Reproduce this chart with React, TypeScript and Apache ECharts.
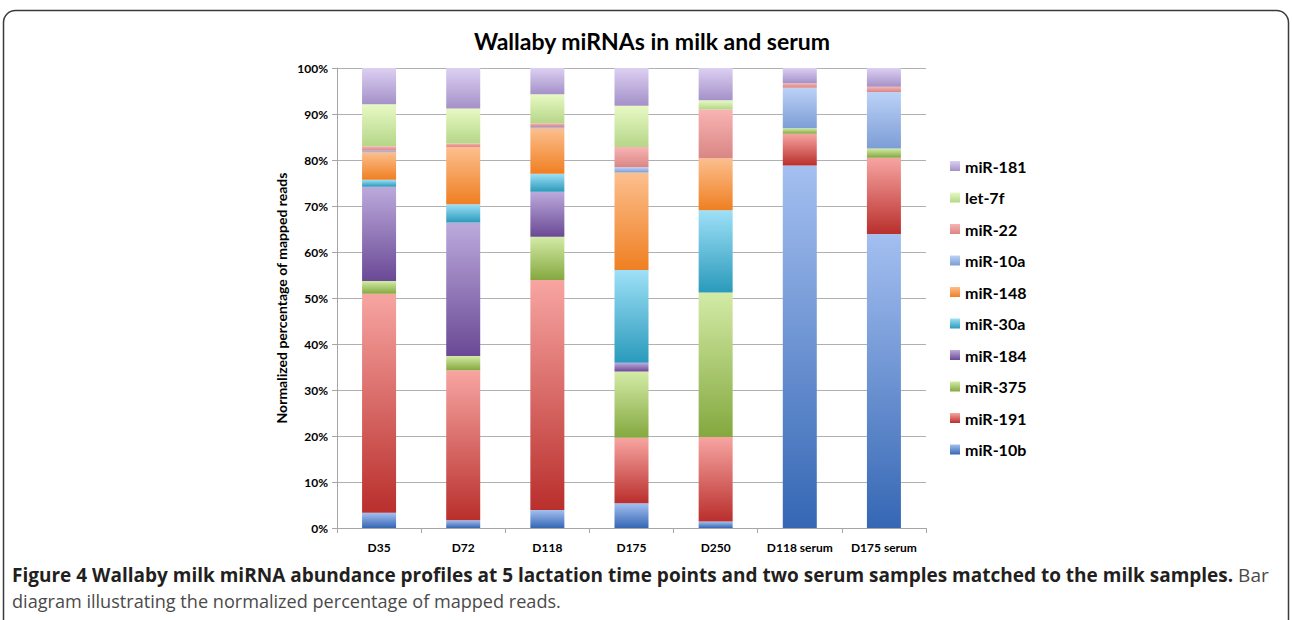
import React, { useEffect, useRef } from "react";
import * as echarts from "echarts";

const categories = ["D35", "D72", "D118", "D175", "D250", "D118 serum", "D175 serum"];
const yTicks = [0, 10, 20, 30, 40, 50, 60, 70, 80, 90, 100];

const miR10b = [3.3, 1.7, 3.9, 5.4, 1.4, 78.8, 63.9];
const miR191 = [47.6, 32.6, 50.0, 14.2, 18.4, 6.9, 16.6];
const miR375 = [2.8, 3.1, 9.4, 14.4, 31.4, 1.2, 2.0];
const miR184 = [20.5, 29.0, 9.8, 1.9, 0, 0, 0];
const miR30a = [1.5, 4.0, 3.9, 20.2, 17.9, 0, 0];
const miR148 = [6.0, 12.4, 9.9, 21.2, 11.3, 0, 0];
const miR10a = [0.3, 0, 0.3, 1.1, 0, 8.8, 12.3];
const miR22 = [1.0, 0.8, 0.8, 4.4, 10.6, 1.0, 1.1];
const let7f = [9.1, 7.6, 6.3, 9.0, 2.0, 0, 0];
const miR181 = [7.9, 8.8, 5.7, 8.2, 7.0, 3.3, 4.1];

const seriesNames = ["miR-10b", "miR-191", "miR-375", "miR-184", "miR-30a", "miR-148", "miR-10a", "miR-22", "let-7f", "miR-181"];
const seriesValues = [miR10b, miR191, miR375, miR184, miR30a, miR148, miR10a, miR22, let7f, miR181];
const seriesColors: [string, string][] = [
  ["#a4bff0", "#3567b4"],
  ["#f7a5a2", "#b92f2c"],
  ["#d3eba6", "#84a83f"],
  ["#bcaadc", "#6a4995"],
  ["#9ee0f7", "#2a9abb"],
  ["#fcbf8e", "#ef7f22"],
  ["#bcd2f7", "#7d9dd6"],
  ["#f8b4b3", "#d98684"],
  ["#e8f9c4", "#b5d688"],
  ["#dcd0f2", "#a491c8"],
];

const titleText = "Wallaby miRNAs in milk and serum";
const yAxisName = "Normalized percentage of mapped reads";
const captionBold = "Figure 4 Wallaby milk miRNA abundance profiles at 5 lactation time points and two serum samples matched to the milk samples.";
const captionRest1 = " Bar";
const captionLine2 = "diagram illustrating the normalized percentage of mapped reads.";

const chartFont = "Lato, 'Open Sans', sans-serif";

export default function App() {
  const ref = useRef<HTMLDivElement>(null);
  useEffect(() => {
    if (!ref.current) return;
    const chart = echarts.init(ref.current, undefined, { renderer: "svg" });
    const series = seriesNames.map((name, i) => ({
      name,
      type: "bar",
      stack: "total",
      barWidth: 34,
      data: seriesValues[i],
      itemStyle: {
        color: new echarts.graphic.LinearGradient(0, 0, 0, 1, [
          { offset: 0, color: seriesColors[i][0] },
          { offset: 1, color: seriesColors[i][1] },
        ]),
      },
      emphasis: { disabled: true },
    }));
    chart.setOption({
      animation: false,
      backgroundColor: "#ffffff",
      title: {
        text: titleText,
        left: 647,
        textAlign: "center",
        top: 24,
        textStyle: { fontFamily: chartFont, fontWeight: "bold", fontSize: 23, color: "#000" },
      },
      legend: {
        orient: "vertical",
        left: 945,
        top: 153,
        itemWidth: 10,
        itemHeight: 10,
        itemGap: 15.5,
        icon: "rect",
        data: [...seriesNames].reverse(),
        textStyle: { fontFamily: chartFont, fontWeight: "bold", fontSize: 16, lineHeight: 16, color: "#000", padding: [0, 0, 0, 0] },
      },
      grid: { left: 337, right: 366, top: 68, bottom: 92, containLabel: false },
      xAxis: {
        type: "category",
        data: categories,
        axisLine: { lineStyle: { color: "#a6a6a6", width: 1 } },
        axisTick: { show: true, length: 5, lineStyle: { color: "#a6a6a6" } },
        axisLabel: { interval: 0, fontFamily: chartFont, fontWeight: "bold", fontSize: 12, color: "#000", margin: 13 },
      },
      yAxis: {
        type: "value",
        min: 0,
        max: 100,
        interval: 10,
        name: yAxisName,
        nameLocation: "middle",
        nameGap: 49,
        nameTextStyle: { fontFamily: chartFont, fontWeight: "bold", fontSize: 14, color: "#000" },
        axisLine: { show: true, lineStyle: { color: "#a6a6a6" } },
        axisTick: { show: true, length: 5, lineStyle: { color: "#a6a6a6" } },
        splitLine: { lineStyle: { color: "#b0b0b0", width: 1 } },
        axisLabel: {
          fontFamily: chartFont,
          fontWeight: "bold",
          fontSize: 12,
          color: "#000",
          margin: 9,
          formatter: (v: number) => (yTicks.includes(v) ? `${v}%` : ""),
        },
      },
      graphic: [
        {
          type: "rect",
          shape: { x: 3.5, y: 10.5, width: 1285, height: 700, r: 12 },
          style: { fill: "none", stroke: "#3a3a3a", lineWidth: 1.5 },
          silent: true,
        },
        {
          type: "text",
          x: 12,
          y: 575,
          style: {
            text: `{b|${captionBold}}{n|${captionRest1}}`,
            verticalAlign: "middle",
            rich: {
              b: { fontFamily: "'Open Sans', sans-serif", fontWeight: "bold", fontSize: 19, fill: "#231f20" },
              n: { fontFamily: "'Open Sans', sans-serif", fontWeight: "normal", fontSize: 19, fill: "#4a4a4a" },
            },
          },
          silent: true,
        },
        {
          type: "text",
          x: 12,
          y: 601,
          style: {
            text: captionLine2,
            verticalAlign: "middle",
            fontFamily: "'Open Sans', sans-serif",
            fontSize: 18.1,
            fill: "#4a4a4a",
          },
          silent: true,
        },
      ],
      series,
    });
    return () => chart.dispose();
  }, []);
  return <div ref={ref} style={{ position: "absolute", left: 0, top: 0, width: 1292, height: 620 }} />;
}
